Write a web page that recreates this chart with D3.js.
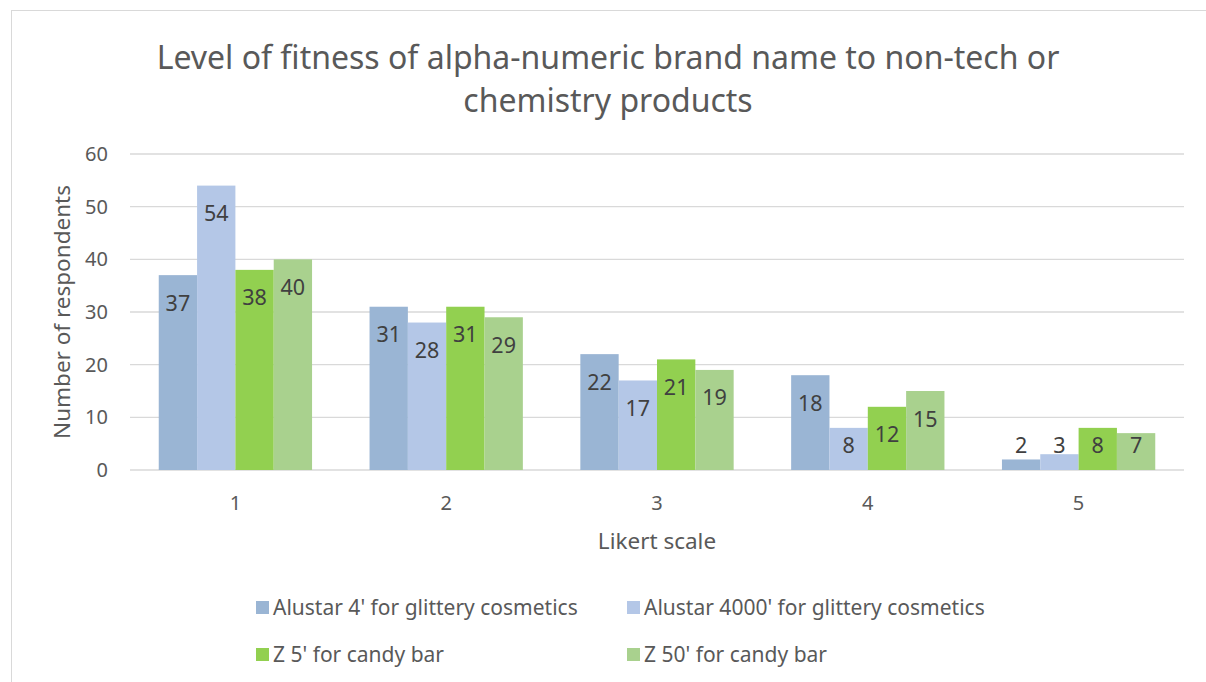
<!DOCTYPE html>
<html>
<head>
<meta charset="utf-8">
<script src="https://cdn.jsdelivr.net/npm/d3@7"></script>
<style>
  body { margin: 0; background: #fff; }
  text { font-family: "Noto Sans", "Open Sans", sans-serif; }
</style>
</head>
<body>
<div id="chart"></div>
<script>
// chart data
const categories = ["1", "2", "3", "4", "5"];
const seriesNames = [
    "Alustar 4' for glittery cosmetics",
    "Alustar 4000' for glittery cosmetics",
    "Z 5' for candy bar",
    "Z 50' for candy bar"
];
const alustar4 = [37, 31, 22, 18, 2];
const alustar4000 = [54, 28, 17, 8, 3];
const z5 = [38, 31, 21, 12, 8];
const z50 = [40, 29, 19, 15, 7];
const yTicks = [0, 10, 20, 30, 40, 50, 60];
const colors = ["#9ab5d4", "#b4c7e7", "#92d050", "#a9d18e"];

const seriesValues = [alustar4, alustar4000, z5, z50];

const width = 1206, height = 682;
const margin = {top: 154, right: 22, bottom: 212, left: 130};  // plot: x 130..1184, y 154..470

const svg = d3.select("#chart")
    .append("svg")
    .attr("width", width)
    .attr("height", height);

// outer chart border
svg.append("rect")
    .attr("x", 11.5).attr("y", 10.5)
    .attr("width", 1210).attr("height", 700)
    .attr("fill", "#fff")
    .attr("stroke", "#d9d9d9");

const x0 = d3.scaleBand()
    .domain(categories)
    .range([margin.left, width - margin.right]);

// gap width 150% like Excel: 4 bars + 1.5 bar gap per category
const barW = x0.bandwidth() / 5.5;
const x1 = d3.scaleBand()
    .domain(d3.range(seriesNames.length))
    .range([0, barW * 4]);

const y = d3.scaleLinear()
    .domain([0, 60])
    .range([height - margin.bottom, margin.top]);

// gridlines
svg.append("g")
    .selectAll("line")
    .data(yTicks)
    .join("line")
    .attr("x1", margin.left)
    .attr("x2", width - margin.right)
    .attr("y1", d => y(d))
    .attr("y2", d => y(d))
    .attr("stroke", "#d9d9d9")
    .attr("stroke-width", 1.3);

// y tick labels
svg.append("g")
    .selectAll("text")
    .data(yTicks)
    .join("text")
    .attr("x", 108)
    .attr("y", d => y(d))
    .attr("dy", "0.35em")
    .attr("text-anchor", "end")
    .style("font-size", "20px")
    .style("fill", "#595959")
    .text(d => d);

// bars
const groups = svg.append("g")
    .selectAll("g")
    .data(categories)
    .join("g")
    .attr("transform", d => `translate(${x0(d) + barW * 0.75},0)`);

groups.each(function (cat, ci) {
    const g = d3.select(this);
    seriesValues.forEach((vals, si) => {
        const v = vals[ci];
        g.append("rect")
            .attr("x", x1(si))
            .attr("y", y(v))
            .attr("width", x1.bandwidth())
            .attr("height", y(0) - y(v))
            .attr("fill", colors[si]);
        // label inside end, kept above a floor for small bars
        const ly = Math.min(y(v) + 28, y(0) - 25);
        g.append("text")
            .attr("x", x1(si) + x1.bandwidth() / 2)
            .attr("y", ly)
            .attr("dy", "0.35em")
            .attr("text-anchor", "middle")
            .style("font-size", "21.5px")
            .style("fill", "#404040")
            .text(v);
    });
});

// x tick labels
svg.append("g")
    .selectAll("text")
    .data(categories)
    .join("text")
    .attr("x", d => x0(d) + x0.bandwidth() / 2)
    .attr("y", 503)
    .attr("dy", "0.35em")
    .attr("text-anchor", "middle")
    .style("font-size", "20px")
    .style("fill", "#595959")
    .text(d => d);

// axis titles
svg.append("text")
    .attr("x", 657)
    .attr("y", 541)
    .attr("dy", "0.35em")
    .attr("text-anchor", "middle")
    .style("font-size", "22.5px")
    .style("fill", "#595959")
    .text("Likert scale");

svg.append("text")
    .attr("transform", "translate(62,312) rotate(-90)")
    .attr("dy", "0.35em")
    .attr("text-anchor", "middle")
    .style("font-size", "22.5px")
    .style("fill", "#595959")
    .text("Number of respondents");

// title
const title = svg.append("text")
    .attr("text-anchor", "middle")
    .style("font-size", "32px")
    .style("fill", "#595959");
title.append("tspan").attr("x", 608).attr("y", 69).text("Level of fitness of alpha-numeric brand name to non-tech or");
title.append("tspan").attr("x", 608).attr("y", 112).text("chemistry products");

// legend
const legendPos = [[256, 608], [627, 608], [256, 655], [627, 655]];
const legend = svg.append("g")
    .selectAll("g")
    .data(seriesNames)
    .join("g")
    .attr("transform", (d, i) => `translate(${legendPos[i][0]},${legendPos[i][1]})`);

legend.append("rect")
    .attr("x", 0)
    .attr("y", -7)
    .attr("width", 13)
    .attr("height", 13)
    .attr("fill", (d, i) => colors[i]);

legend.append("text")
    .attr("x", 17)
    .attr("y", 0)
    .attr("dy", "0.35em")
    .style("font-size", "21px")
    .style("fill", "#595959")
    .text(d => d);
</script>
</body>
</html>
